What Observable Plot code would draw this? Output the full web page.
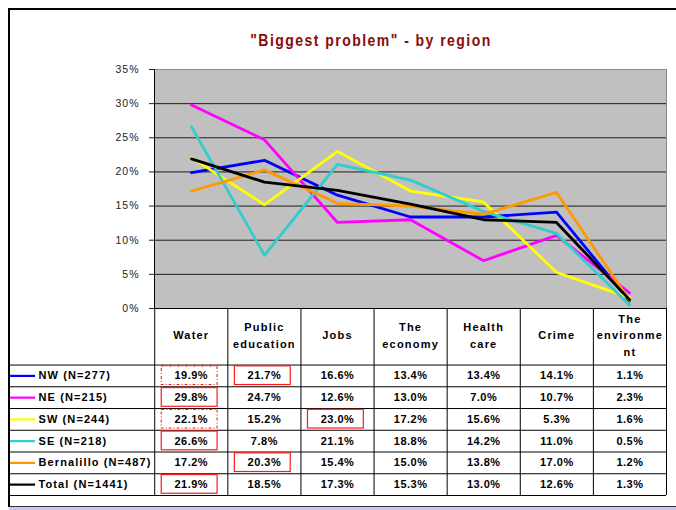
<!DOCTYPE html>
<html>
<head>
<meta charset="utf-8">
<script src="https://cdn.jsdelivr.net/npm/d3@7"></script>
<script src="https://cdn.jsdelivr.net/npm/@observablehq/plot@0.6"></script>
<style>
  html, body { margin: 0; padding: 0; background: #fff; width: 676px; height: 510px; overflow: hidden; }
  #frame { position: absolute; left: 8px; top: 8px; width: 700px; height: 497px; border-top: 2px solid #000; border-left: 2px solid #000; }
  #title { position: absolute; left: 121px; width: 500px; top: 30px; text-align: center;
           font-family: "Liberation Sans", Arial, sans-serif; font-weight: bold; font-size: 16.5px;
           letter-spacing: 1.7px; color: #8b0a0a; line-height: 20px; transform: scaleX(0.85); transform-origin: 250px 0; }
  #chart { position: absolute; left: 8px; top: 60px; }
  #table { position: absolute; left: 8px; top: 308px; }
  #band { position: absolute; left: 9px; top: 506px; width: 700px; height: 6px; background: #c8c8f0; border-top: 1px solid #333; }
</style>
</head>
<body>
<div id="frame"></div>
<div id="title">"Biggest problem" - by region</div>
<div id="chart"></div>
<div id="table"></div>
<div id="band"></div>
<script>
// ---- data ----
const categories = ["Water", "Public education", "Jobs", "The economy", "Health care", "Crime", "The environment"];
const headerLabels = ["Water", "Public\neducation", "Jobs", "The\neconomy", "Health\ncare", "Crime", "The\nenvironme\nnt"];
const seriesNames = ["NW (N=277)", "NE (N=215)", "SW (N=244)", "SE (N=218)", "Bernalillo (N=487)", "Total (N=1441)"];
const seriesColors = ["#0000ff", "#ff00ff", "#ffff00", "#33cccc", "#ff9900", "#000000"];
const nw = [19.9, 21.7, 16.6, 13.4, 13.4, 14.1, 1.1];
const ne = [29.8, 24.7, 12.6, 13.0, 7.0, 10.7, 2.3];
const sw = [22.1, 15.2, 23.0, 17.2, 15.6, 5.3, 1.6];
const se = [26.6, 7.8, 21.1, 18.8, 14.2, 11.0, 0.5];
const bernalillo = [17.2, 20.3, 15.4, 15.0, 13.8, 17.0, 1.2];
const total = [21.9, 18.5, 17.3, 15.3, 13.0, 12.6, 1.3];
const yTickValues = [0, 5, 10, 15, 20, 25, 30, 35];
// highlighted cells: [series index, category index, dashed?]
const highlights = [
  {row: 0, col: 0, dashed: true},
  {row: 0, col: 1, dashed: false},
  {row: 1, col: 0, dashed: false},
  {row: 2, col: 0, dashed: true},
  {row: 2, col: 2, dashed: false},
  {row: 3, col: 0, dashed: false},
  {row: 4, col: 1, dashed: false},
  {row: 5, col: 0, dashed: false}
];

const seriesValues = [nw, ne, sw, se, bernalillo, total];
const long = [];
seriesValues.forEach((vals, r) => vals.forEach((v, c) => long.push({series: seriesNames[r], category: categories[c], value: v, row: r, col: c})));

const FONT = "Liberation Sans, Arial, Helvetica, sans-serif";

// ---- chart ----
const chart = Plot.plot({
  width: 660, height: 250,
  marginTop: 9, marginBottom: 2, marginLeft: 146, marginRight: 2,
  style: {fontFamily: FONT, fontSize: "10.5px", letterSpacing: "1px", background: "transparent", color: "#222", overflow: "visible"},
  x: {type: "point", domain: categories, padding: 0.5, axis: null},
  y: {domain: [0, 35], ticks: yTickValues, tickFormat: d => d + "%", tickSize: 5, tickPadding: 10, label: null},
  color: {domain: seriesNames, range: seriesColors},
  marks: [
    Plot.frame({fill: "#c0c0c0"}),
    Plot.ruleY(yTickValues.filter(d => d > 0 && d < 35), {stroke: "#000", strokeWidth: 1, strokeOpacity: 0.85}),
    Plot.frame({stroke: "#8a8a8a"}),
    Plot.line(long, {x: "category", y: "value", z: "series", stroke: "series", strokeWidth: 2.8}),
    Plot.ruleY([0], {stroke: "#000"}),
    Plot.frame({anchor: "left", stroke: "#000"})
  ]
});
document.getElementById("chart").appendChild(chart);

// ---- data table ----
const HEADER = 2.6;             // header row height, in row units
const NROWS = seriesNames.length;
const colPer = 73;              // px per column (for swatch length)
const table = Plot.plot({
  width: 660, height: 188,
  marginTop: 0, marginBottom: 1, marginLeft: 0, marginRight: 2,
  style: {fontFamily: FONT, fontSize: "11px", background: "transparent", color: "#000", overflow: "visible"},
  x: {domain: [-2, categories.length], axis: null},
  y: {domain: [0, HEADER + NROWS], reverse: true, axis: null},
  color: {domain: seriesNames, range: seriesColors},
  marks: [
    Plot.ruleY(d3.range(NROWS + 1).map(i => HEADER + i), {y: d => d, x1: -2, x2: categories.length, stroke: "#000"}),
    Plot.ruleX(d3.range(categories.length + 1), {x: d => d, y1: 0, y2: HEADER + NROWS, stroke: "#000"}),
    Plot.text(headerLabels, {x: (d, i) => i + 0.5, y: HEADER / 2 - 0.12, text: d => d, lineHeight: 1.5, fontWeight: "bold", fill: "#000"}),
    Plot.text(long, {x: d => d.col + 0.5, y: d => HEADER + d.row + 0.5, text: d => d.value.toFixed(1) + "%", fontWeight: "bold", fill: "#000"}),
    Plot.text(seriesNames, {x: -2, y: (d, i) => HEADER + i + 0.5, text: d => d, textAnchor: "start", dx: 30, fontWeight: "bold", fill: "#000"}),
    Plot.ruleY(seriesNames, {y: (d, i) => HEADER + i + 0.5, x1: -2 + 2 / colPer, x2: -2 + 27 / colPer, stroke: d => d, strokeWidth: 2.2}),
    Plot.rect(highlights.filter(d => !d.dashed), {x1: d => d.col + 0.096, x2: d => d.col + 0.86, y1: d => HEADER + d.row + 0.06, y2: d => HEADER + d.row + 0.92, fill: "none", stroke: "#ff1a1a", strokeWidth: 1.2}),
    Plot.rect(highlights.filter(d => d.dashed), {x1: d => d.col + 0.096, x2: d => d.col + 0.86, y1: d => HEADER + d.row + 0.06, y2: d => HEADER + d.row + 0.92, fill: "none", stroke: "#ff1a1a", strokeWidth: 1.1, strokeDasharray: "3,2,1,2"})
  ]
});
document.getElementById("table").appendChild(table);
// letter spacing per text group (header, cells, labels)
const textGroups = d3.select(table).selectAll('g[aria-label="text"]').nodes();
const spacings = ["1.2px", "0.5px", "1.1px"];
textGroups.forEach((g, i) => g.setAttribute("letter-spacing", spacings[i] || "0.5px"));
</script>
</body>
</html>
